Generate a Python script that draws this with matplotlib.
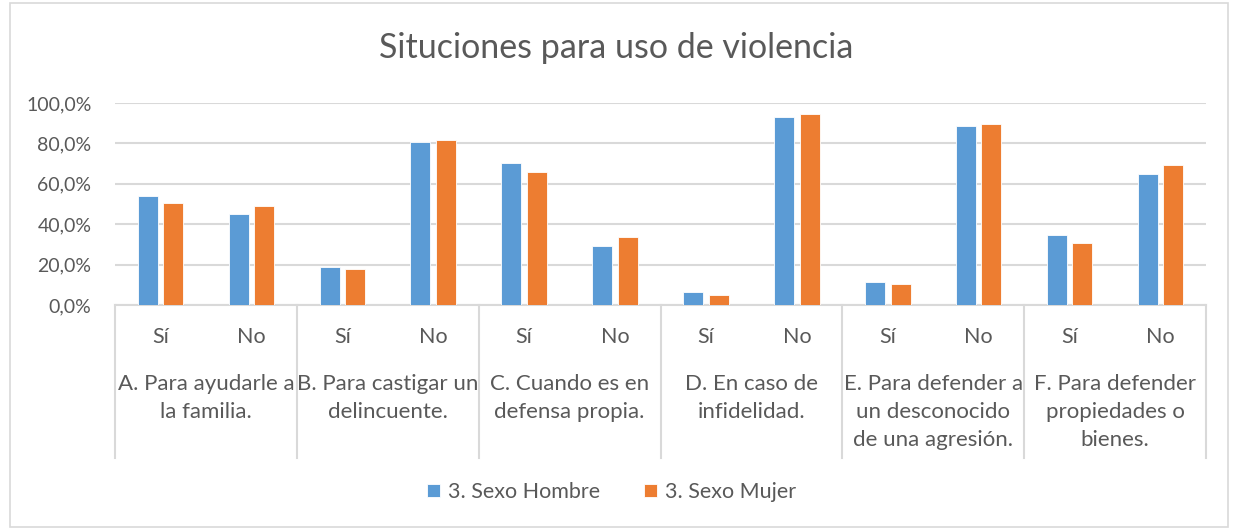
import matplotlib
matplotlib.use('Agg')
import matplotlib.pyplot as plt
from matplotlib.patches import Rectangle
from matplotlib.ticker import FuncFormatter
import matplotlib.transforms as mtransforms
import numpy as np

plt.rcParams['font.family'] = ['Lato', 'DejaVu Sans']

# data
groups = ['A. Para ayudarle a\nla familia.',
          'B. Para castigar un\ndelincuente.',
          'C. Cuando es en\ndefensa propia.',
          'D. En caso de\ninfidelidad.',
          'E. Para defender a\nun desconocido\nde una agresión.',
          'F. Para defender\npropiedades o\nbienes.']
answers = ['Sí', 'No']
hombre = [54.2, 45.1, 18.7, 80.8, 70.2, 29.3, 6.4, 93.0, 11.2, 88.6, 34.5, 64.9]
mujer = [50.4, 49.1, 18.0, 81.5, 65.9, 33.7, 5.1, 94.5, 10.4, 89.4, 30.6, 69.3]
series_names = ['3. Sexo Hombre', '3. Sexo Mujer']

blue = '#5B9BD5'
orange = '#ED7D31'
grid_c = '#D9D9D9'
text_c = '#595959'

W, H = 1233, 529
fig = plt.figure(figsize=(W / 100, H / 100), dpi=100)
ax = fig.add_axes([115 / W, (H - 305) / H, (1206 - 115) / W, 202 / H])

x = np.arange(len(hombre))
bw = 0.22
ax.bar(x - 0.14, np.array(hombre) / 100, bw, color=blue, edgecolor='white', linewidth=0.6, label=series_names[0], zorder=3)
ax.bar(x + 0.14, np.array(mujer) / 100, bw, color=orange, edgecolor='white', linewidth=0.6, label=series_names[1], zorder=3)

ax.set_xlim(-0.5, len(hombre) - 0.5)
ax.set_ylim(0, 1.0)
ax.set_yticks(np.arange(0, 1.01, 0.2))
ax.yaxis.set_major_formatter(FuncFormatter(lambda v, p: ('%.1f%%' % (v * 100)).replace('.', ',')))
ax.yaxis.grid(True, color=grid_c, linewidth=1.5, zorder=0)
ax.set_axisbelow(True)
for s in ['top', 'right', 'left']:
    ax.spines[s].set_visible(False)
ax.spines['bottom'].set_color(grid_c)
ax.spines['bottom'].set_linewidth(1.5)
ax.tick_params(axis='y', length=0, pad=17, labelsize=14, labelcolor=text_c)
ax.set_xticks(x)
ax.set_xticklabels(answers * len(groups))
ax.tick_params(axis='x', length=0, pad=16, labelsize=15.5, labelcolor=text_c)

# group labels and dividers below the axis
tr = mtransforms.blended_transform_factory(ax.transData, fig.transFigure)
for i, g in enumerate(groups):
    ax.text(2 * i + 0.5, 1 - 374 / H, g, transform=tr, ha='center', va='top',
            fontsize=16, color=text_c, linespacing=1.5)
for b in np.arange(-0.5, len(hombre), 2):
    ax.plot([b, b], [1 - 305 / H, 1 - 458 / H], transform=tr, color=grid_c,
            linewidth=1.5, clip_on=False)

fig.text(0.5, 1 - 48 / H, 'Situciones para uso de violencia', ha='center', va='center',
         fontsize=24.5, color=text_c)

fig.legend(loc='center', bbox_to_anchor=(0.496, 1 - 492 / H), ncol=2, frameon=False,
           fontsize=15.5, labelcolor=text_c, handlelength=0.6, handleheight=0.6,
           handletextpad=0.4, columnspacing=2.0)

fig.patches.append(Rectangle((0.008, 0.004), 0.988, 0.99, transform=fig.transFigure,
                             fill=False, edgecolor=grid_c, linewidth=1.2))

fig.savefig('out.png', dpi=100)
